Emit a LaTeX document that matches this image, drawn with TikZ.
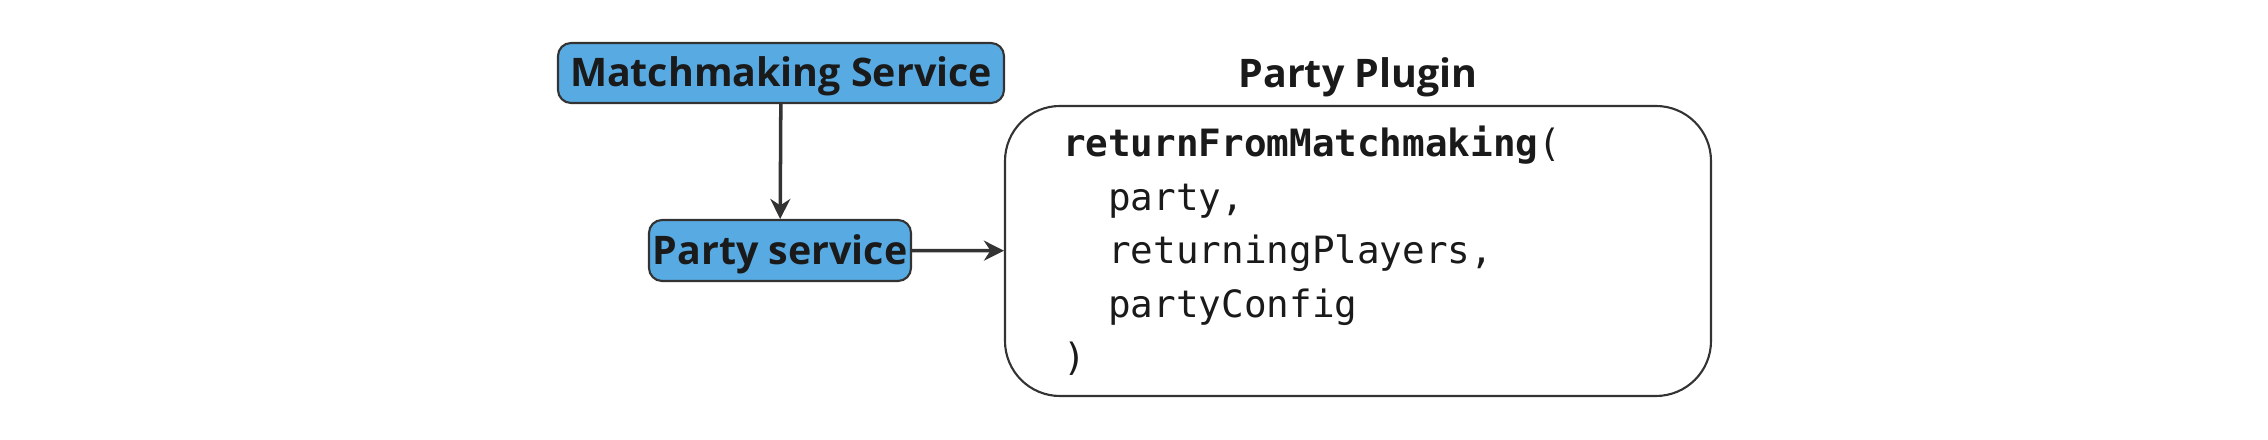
\documentclass[tikz,border=0pt]{standalone}
\usepackage{fontspec}
\setmainfont{Open Sans}
\newfontfamily\codefont{DejaVu Sans Mono}
\usetikzlibrary{arrows.meta}
\definecolor{svcblue}{HTML}{58AAE2}
\definecolor{inkgray}{HTML}{333333}
\definecolor{txtblack}{HTML}{1A1A1A}

\begin{document}
\begin{tikzpicture}[>={Stealth[length=2mm,width=2mm]},font=\fontsize{11.2}{13}\selectfont\bfseries,text=txtblack,
  svcbox/.style={draw=inkgray,line width=0.6pt,fill=svcblue,rounded corners=1.3mm,inner sep=0pt,text height=0.31cm,text depth=0.03cm},
  link/.style={->,inkgray,line width=1pt}]
\useasboundingbox (0,0) rectangle (22.68,-4.40);
\node[svcbox,minimum width=4.46cm,minimum height=0.60cm] (mm) at (7.81,-0.73) {Matchmaking Service};
\node[svcbox,minimum width=2.62cm,minimum height=0.61cm] (ps) at (7.80,-2.505) {Party service};
\node (title) at (13.58,-0.77) {Party Plugin};
\node[draw=inkgray,line width=0.6pt,rounded corners=5.5mm,align=left,text width=5.90cm,inner xsep=0.58cm,inner ysep=0pt,minimum height=2.90cm,font=\codefont\mdseries\fontsize{10.7}{15.2}\selectfont] (plug) at (13.58,-2.51) {{\bfseries returnFromMatchmaking}(\\
\phantom{xx}party,\\
\phantom{xx}returningPlayers,\\
\phantom{xx}partyConfig\\
)};
\draw[link] (mm) -- (ps);
\draw[link] (ps) -- (plug);
\end{tikzpicture}
\end{document}
